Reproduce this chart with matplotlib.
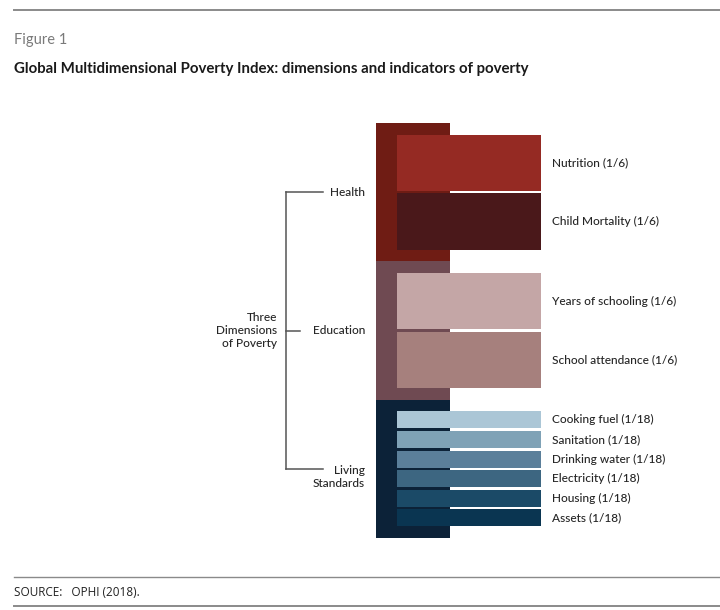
import matplotlib
matplotlib.use("Agg")
from matplotlib import pyplot as plt
import numpy as np

plt.rcParams['font.family'] = ['Lato', 'DejaVu Sans']

# dimensions of the global MPI and their weights
dimensions = ["Health", "Education", "Living\nStandards"]
dim_weights = [1/3, 1/3, 1/3]
dim_colors = ["#6f1c14", "#6f4a52", "#0c2238"]

# indicators (dimension index, name, weight label, weight)
ind_dim = [0, 0, 1, 1, 2, 2, 2, 2, 2, 2]
ind_names = ["Nutrition", "Child Mortality", "Years of schooling", "School attendance",
             "Cooking fuel", "Sanitation", "Drinking water", "Electricity",
             "Housing", "Assets"]
ind_labels = ["1/6", "1/6", "1/6", "1/6", "1/18", "1/18", "1/18", "1/18", "1/18", "1/18"]
ind_weights = [1/6, 1/6, 1/6, 1/6, 1/18, 1/18, 1/18, 1/18, 1/18, 1/18]
ind_colors = ["#952a23", "#4a181a", "#c4a6a6", "#a6807d",
              "#abc6d6", "#7fa2b6", "#5b7f9a", "#3d6681", "#1b4a67", "#0a3551"]

W, H = 720, 610
fig = plt.figure(figsize=(W / 100, H / 100), dpi=100)

# axes spans the full width (x in pixels) and the block region vertically (y in weight)
top_px, bot_px = 123, 538
ax = fig.add_axes([0, 1 - bot_px / H, 1, (bot_px - top_px) / H])
ax.set_xlim(0, W)
ax.set_ylim(1, 0)
ax.axis("off")

txt = "#262626"
fs = 8.6
fw = "medium"
pad = 10.5 / (bot_px - top_px)
gap = 2.6 / (bot_px - top_px)

dim_start = np.concatenate([[0], np.cumsum(dim_weights)[:-1]])
dim_center = dim_start + np.array(dim_weights) / 2

# dimension blocks
ax.barh(dim_center, 74, height=dim_weights, left=376, color=dim_colors, linewidth=0)

# indicator bars
for d in range(len(dimensions)):
    idx = [i for i in range(len(ind_names)) if ind_dim[i] == d]
    inner = dim_weights[d] - 2 * pad
    y = dim_start[d] + pad
    for i in idx:
        slot = inner * ind_weights[i] / dim_weights[d]
        c = y + slot / 2
        ax.barh(c, 144, height=slot - gap, left=397, color=ind_colors[i], linewidth=0)
        ax.text(552, c, f"{ind_names[i]} ({ind_labels[i]})", fontsize=fs, fontweight=fw,
                color=txt, va="center", ha="left")
        y += slot

# bracket
lc = "#555555"
ax.plot([286, 286], [dim_center[0], dim_center[-1]], color=lc, lw=1.1, clip_on=False)
for d, c in enumerate(dim_center):
    xe = 300 if d == 1 else 323
    ax.plot([286, xe], [c, c], color=lc, lw=1.1, clip_on=False)
    if "\n" in dimensions[d]:
        ax.text(365, c, dimensions[d], fontsize=fs, fontweight=fw, color=txt, ha="right",
                va="top", linespacing=1.25,
                transform=ax.transData + matplotlib.transforms.ScaledTranslation(0, 4 / 100, fig.dpi_scale_trans))
    else:
        ax.text(365, c, dimensions[d], fontsize=fs, fontweight=fw, color=txt,
                ha="right", va="center")
ax.text(277, dim_center[1], "Three\nDimensions\nof Poverty", fontsize=fs, fontweight=fw,
        color=txt, ha="right", va="center", linespacing=1.25)

# header and footer
fig.add_artist(plt.Line2D([14 / W, 1], [1 - 10 / H] * 2, color="#8a8a8a", lw=1.4))
fig.text(14 / W, 1 - 40 / H, "Figure 1", fontsize=10.5, color="#7a7a7a", va="center")
fig.text(14 / W, 1 - 69 / H,
         "Global Multidimensional Poverty Index: dimensions and indicators of poverty",
         fontsize=10.8, fontweight="bold", color="#1a1a1a", va="center")
fig.add_artist(plt.Line2D([14 / W, 1], [1 - 577 / H] * 2, color="#8a8a8a", lw=1.0))
fig.add_artist(plt.Line2D([14 / W, 1], [1 - 606 / H] * 2, color="#8a8a8a", lw=1.4))
fig.text(14 / W, 1 - 592 / H, "SOURCE:   OPHI (2018).", fontsize=8.5, color="#222222",
         va="center", family=["Open Sans", "DejaVu Sans"])

fig.savefig("out.png", dpi=100)
